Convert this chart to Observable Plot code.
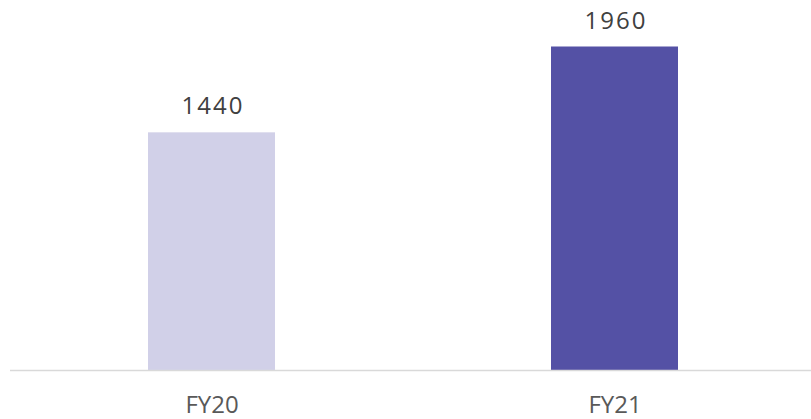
<!DOCTYPE html>
<html>
<head>
<meta charset="utf-8">
<script src="https://cdn.jsdelivr.net/npm/d3@7"></script>
<script src="https://cdn.jsdelivr.net/npm/@observablehq/plot@0.6"></script>
<style>
  html, body { margin: 0; padding: 0; background: #ffffff; }
  .vals text { letter-spacing: 2px; }
</style>
</head>
<body>
<div id="chart"></div>
<script>
const categories = ["FY20", "FY21"];
const values = [1440, 1960];
const barColors = ["#d1d0e8", "#5451a5"];

const data = categories.map((c, i) => ({category: c, value: values[i], color: barColors[i]}));

const chart = Plot.plot({
  width: 811,
  height: 419,
  marginLeft: 10,
  marginRight: 0,
  marginTop: 0,
  marginBottom: 49,
  x: {domain: categories, range: [15, 811], paddingInner: 0.685, paddingOuter: 0.33, label: null},
  y: {domain: [0, 1960], range: [370, 46.5], axis: null},
  color: {type: "identity"},
  style: {fontFamily: "'Open Sans', sans-serif", fontSize: "24px", background: "#ffffff"},
  marks: [
    Plot.barY(data, {x: "category", y: "value", fill: "color"}),
    Plot.ruleY([0], {stroke: "#d9d9d9", strokeWidth: 1.5}),
    Plot.text(data, {x: "category", y: "value", text: d => String(d.value), lineAnchor: "bottom", dy: -18.5, dx: 1, fill: "#404040", fontSize: 24, className: "vals"}),
    Plot.axisX({tickSize: 0, tickPadding: 25, fill: "#595959", fontSize: 24, label: null})
  ]
});
document.getElementById("chart").appendChild(chart);
</script>
</body>
</html>
